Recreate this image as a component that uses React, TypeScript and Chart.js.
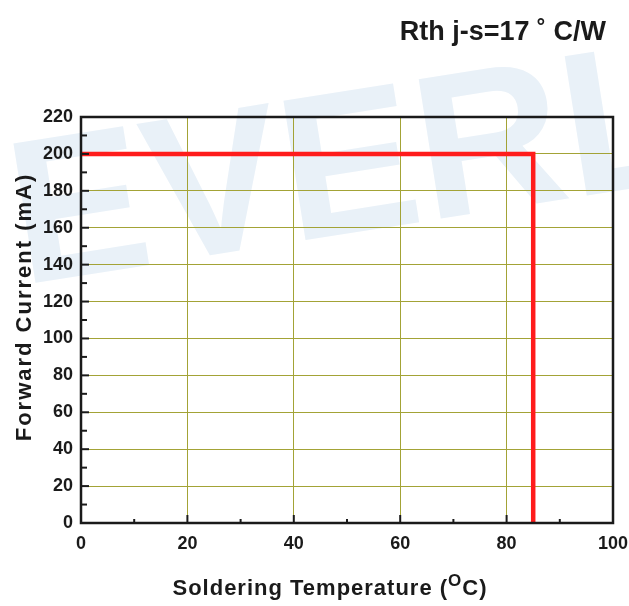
import { useEffect, useRef } from "react";
import { Chart, registerables } from "chart.js";

Chart.register(...registerables);

// ---- data ----
const xValues = [0, 85, 85];
const yValues = [200, 200, 0];
const xTickValues = [0, 20, 40, 60, 80, 100];
const yTickValues = [0, 20, 40, 60, 80, 100, 120, 140, 160, 180, 200, 220];
const xMinorTicks = [10, 30, 50, 70, 90];
const yMinorTicks = [10, 30, 50, 70, 90, 110, 130, 150, 170, 190, 210];
const titleText = "Rth j-s=17 ˚ C/W";
const xTitleMain = "Soldering Temperature (";
const xTitleSup = "O";
const xTitleEnd = "C)";
const yTitleText = "Forward Current (mA)";
const watermarkText = "EVERLIGHT";

const FONT = '"Liberation Sans", Arial, sans-serif';
const GRID = "#a3a336";

const decorPlugin = {
  id: "decor",
  beforeDraw(chart: any) {
    const { ctx, width, height } = chart;
    ctx.save();
    ctx.fillStyle = "#ffffff";
    ctx.fillRect(0, 0, width, height);
    // watermark
    ctx.translate(22, 285);
    ctx.rotate((-9 * Math.PI) / 180);
    ctx.fillStyle = "#e9f1f8";
    ctx.font = `bold 205px ${FONT}`;
    ctx.textBaseline = "alphabetic";
    ctx.textAlign = "left";
    ctx.fillText(watermarkText, 0, 0);
    ctx.restore();
  },
  afterDatasetsDraw(chart: any) {
    const { ctx, chartArea, scales } = chart;
    const xs = scales.x;
    const ys = scales.y;
    ctx.save();
    ctx.strokeStyle = "#1a1a1a";
    ctx.lineWidth = 2;
    xTickValues.forEach((v) => {
      const px = xs.getPixelForValue(v);
      ctx.beginPath();
      ctx.moveTo(px, chartArea.bottom);
      ctx.lineTo(px, chartArea.bottom - 8);
      ctx.stroke();
    });
    yTickValues.forEach((v) => {
      const py = ys.getPixelForValue(v);
      ctx.beginPath();
      ctx.moveTo(chartArea.left, py);
      ctx.lineTo(chartArea.left + 8, py);
      ctx.stroke();
    });
    xMinorTicks.forEach((v) => {
      const px = xs.getPixelForValue(v);
      ctx.beginPath();
      ctx.moveTo(px, chartArea.bottom);
      ctx.lineTo(px, chartArea.bottom - 4);
      ctx.stroke();
    });
    yMinorTicks.forEach((v) => {
      const py = ys.getPixelForValue(v);
      ctx.beginPath();
      ctx.moveTo(chartArea.left, py);
      ctx.lineTo(chartArea.left + 6, py);
      ctx.stroke();
    });
    ctx.lineWidth = 2.5;
    ctx.strokeRect(
      chartArea.left,
      chartArea.top,
      chartArea.right - chartArea.left,
      chartArea.bottom - chartArea.top
    );
    ctx.restore();
  },
  afterDraw(chart: any) {
    const { ctx, chartArea } = chart;
    ctx.save();
    ctx.fillStyle = "#1a1a1a";
    ctx.font = `bold 27px ${FONT}`;
    ctx.textAlign = "right";
    ctx.textBaseline = "alphabetic";
    ctx.fillText(titleText, 606, 40);

    // y title
    ctx.save();
    ctx.font = `bold 22px ${FONT}`;
    (ctx as any).letterSpacing = "2px";
    ctx.translate(31, 307);
    ctx.rotate(-Math.PI / 2);
    ctx.textAlign = "center";
    ctx.fillText(yTitleText, 0, 0);
    ctx.restore();

    // x title with superscript
    ctx.save();
    (ctx as any).letterSpacing = "1px";
    const mainFont = `bold 22px ${FONT}`;
    const supFont = `bold 17px ${FONT}`;
    ctx.font = mainFont;
    const w1 = ctx.measureText(xTitleMain).width;
    const w3 = ctx.measureText(xTitleEnd).width;
    ctx.font = supFont;
    const w2 = ctx.measureText(xTitleSup).width;
    const total = w1 + w2 + w3;
    let x = 330 - total / 2;
    const base = 595;
    ctx.textAlign = "left";
    ctx.font = mainFont;
    ctx.fillText(xTitleMain, x, base);
    x += w1;
    ctx.font = supFont;
    ctx.fillText(xTitleSup, x, base - 9);
    x += w2;
    ctx.font = mainFont;
    ctx.fillText(xTitleEnd, x, base);
    ctx.restore();
    ctx.restore();
  },
};

export default function App() {
  const ref = useRef<HTMLCanvasElement | null>(null);
  useEffect(() => {
    if (!ref.current) return;
    const chart = new Chart(ref.current, {
      type: "scatter",
      data: {
        datasets: [
          {
            data: xValues.map((x, i) => ({ x, y: yValues[i] })),
            showLine: true,
            borderColor: "#ff1c1c",
            backgroundColor: "#ff1c1c",
            borderWidth: 4.5,
            pointRadius: 0,
            tension: 0,
          },
        ],
      },
      options: {
        animation: false,
        responsive: false,
        devicePixelRatio: 1,
        layout: { padding: { left: 0, right: 16, top: 117, bottom: 0 } },
        plugins: {
          legend: { display: false },
          tooltip: { enabled: false },
          title: { display: false },
        },
        scales: {
          x: {
            type: "linear",
            min: 0,
            max: 100,
            afterFit(scale: any) {
              scale.height = 83;
              scale.paddingLeft = 0;
              scale.paddingRight = 0;
            },
            afterBuildTicks(scale: any) {
              scale.ticks = xTickValues.map((v) => ({ value: v }));
            },
            ticks: {
              color: "#1a1a1a",
              font: { family: FONT, size: 18, weight: "bold" },
              padding: 10,
              maxRotation: 0,
            },
            grid: {
              drawTicks: false,
              color: GRID,
              lineWidth: 1,
            },
            border: { display: false },
          },
          y: {
            type: "linear",
            min: 0,
            max: 220,
            afterFit(scale: any) {
              scale.width = 81;
            },
            afterBuildTicks(scale: any) {
              scale.ticks = yTickValues.map((v) => ({ value: v }));
            },
            ticks: {
              color: "#1a1a1a",
              font: { family: FONT, size: 18, weight: "bold" },
              padding: 8,
            },
            grid: {
              drawTicks: false,
              color: GRID,
              lineWidth: 1,
            },
            border: { display: false },
          },
        },
      },
      plugins: [decorPlugin],
    });
    return () => chart.destroy();
  }, []);
  return (
    <div style={{ position: "absolute", left: 0, top: 0, width: 629, height: 606 }}>
      <canvas ref={ref} width={629} height={606} />
    </div>
  );
}
